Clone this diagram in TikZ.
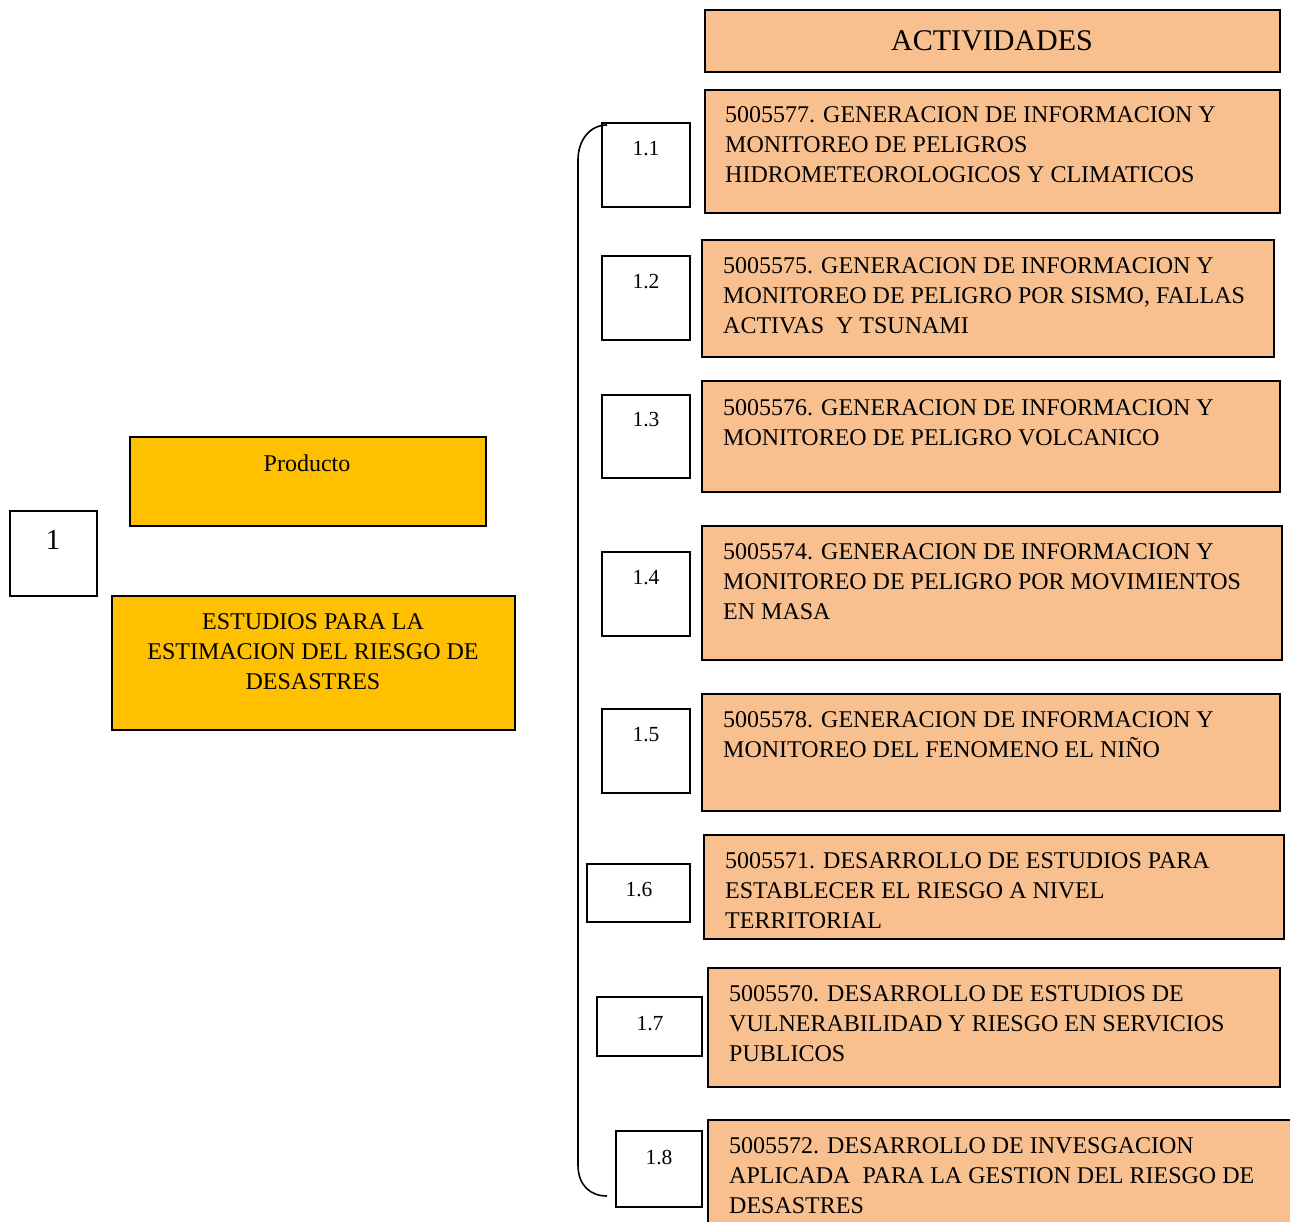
\documentclass[tikz,border=0pt]{standalone}
\usepackage{fontspec}
\setmainfont{Liberation Serif}
\definecolor{peach}{HTML}{F8C08F}
\definecolor{gold}{HTML}{FFC000}
\begin{document}
\begin{tikzpicture}[x=1pt,y=-1pt,
  actbox/.style={draw=black, line width=1.9pt, fill=peach, anchor=north west, inner sep=0pt, outer sep=0pt},
  prodbox/.style={draw=black, line width=1.9pt, fill=gold, anchor=north west, inner sep=0pt, outer sep=0pt},
  numbox/.style={draw=black, line width=1.7pt, fill=white, anchor=north west, inner sep=0pt, outer sep=0pt},
  acttext/.style={anchor=north west, inner sep=0pt, align=left, font=\fontsize{24}{30}\selectfont},
  numtext/.style={anchor=north, inner sep=0pt, font=\fontsize{21.5}{26}\selectfont},
  bracket/.style={draw=black, line width=1.6pt}
]
\useasboundingbox (0,0) rectangle (1290,1222);
\clip (0,0) rectangle (1290,1222);

% header
\node[actbox, minimum width=575pt, minimum height=62pt] (hdr) at (705,10) {};
\node[inner sep=0pt, font=\fontsize{30}{36}\selectfont] (hdrt) at (992,40.5) {ACTIVIDADES};

% activities
\node[actbox, minimum width=575pt, minimum height=123pt] (a1) at (705,90) {};
\node[acttext] (a1t) at (725,106.5) {5005577. GENERACION DE INFORMACION Y\\MONITOREO DE PELIGROS\\HIDROMETEOROLOGICOS Y CLIMATICOS};

\node[actbox, minimum width=572pt, minimum height=117pt] (a2) at (702,240) {};
\node[acttext] (a2t) at (723,257.5) {5005575. GENERACION DE INFORMACION Y\\MONITOREO DE PELIGRO POR SISMO, FALLAS\\ACTIVAS\ \ Y TSUNAMI};

\node[actbox, minimum width=578pt, minimum height=111pt] (a3) at (702,381) {};
\node[acttext] (a3t) at (723,399.5) {5005576. GENERACION DE INFORMACION Y\\MONITOREO DE PELIGRO VOLCANICO};

\node[actbox, minimum width=580pt, minimum height=134pt] (a4) at (702,526) {};
\node[acttext] (a4t) at (723,543.5) {5005574. GENERACION DE INFORMACION Y\\MONITOREO DE PELIGRO POR MOVIMIENTOS\\EN MASA};

\node[actbox, minimum width=578pt, minimum height=117pt] (a5) at (702,694) {};
\node[acttext] (a5t) at (723,711.5) {5005578. GENERACION DE INFORMACION Y\\MONITOREO DEL FENOMENO EL NIÑO};

\node[actbox, minimum width=580pt, minimum height=104pt] (a6) at (704,835) {};
\node[acttext] (a6t) at (725,852.5) {5005571. DESARROLLO DE ESTUDIOS PARA\\ESTABLECER EL RIESGO A NIVEL\\TERRITORIAL};

\node[actbox, minimum width=572pt, minimum height=119pt] (a7) at (708,968) {};
\node[acttext] (a7t) at (729,985.5) {5005570. DESARROLLO DE ESTUDIOS DE\\VULNERABILIDAD Y RIESGO EN SERVICIOS\\PUBLICOS};

\node[actbox, minimum width=600pt, minimum height=120pt] (a8) at (708,1120) {};
\node[acttext] (a8t) at (729,1137.5) {5005572. DESARROLLO DE INVESGACION\\APLICADA\ \ PARA LA GESTION DEL RIESGO DE\\DESASTRES};

% number boxes
\node[numbox, minimum width=88pt, minimum height=84pt] (n1) at (602,123) {};
\node[numtext] (n1t) at (646,141) {1.1};
\node[numbox, minimum width=88pt, minimum height=84pt] (n2) at (602,256) {};
\node[numtext] (n2t) at (646,274) {1.2};
\node[numbox, minimum width=88pt, minimum height=83pt] (n3) at (602,395) {};
\node[numtext] (n3t) at (646,412) {1.3};
\node[numbox, minimum width=88pt, minimum height=84pt] (n4) at (602,552) {};
\node[numtext] (n4t) at (646,570) {1.4};
\node[numbox, minimum width=88pt, minimum height=84pt] (n5) at (602,709) {};
\node[numtext] (n5t) at (646,727) {1.5};
\node[numbox, minimum width=103pt, minimum height=58pt] (n6) at (587,864) {};
\node[numtext] (n6t) at (639,882) {1.6};
\node[numbox, minimum width=105pt, minimum height=59pt] (n7) at (597,997) {};
\node[numtext] (n7t) at (650,1016) {1.7};
\node[numbox, minimum width=86pt, minimum height=76pt] (n8) at (616,1131) {};
\node[numtext] (n8t) at (659,1150) {1.8};

% bracket
\coordinate (btop) at (607,125);
\coordinate (bbot) at (607,1196);
\draw[bracket] (btop) .. controls (590,125) and (578,140) .. (578,160) -- (578,1165) .. controls (578,1185) and (590,1196) .. (bbot);

% product side
\node[numbox, minimum width=87pt, minimum height=85pt] (p1) at (10,511) {};
\node[inner sep=0pt, anchor=north, font=\fontsize{29}{34}\selectfont] (p1t) at (53,530) {1};

\node[prodbox, minimum width=356pt, minimum height=89pt] (prod) at (130,437) {};
\node[inner sep=0pt, anchor=north, font=\fontsize{24}{30}\selectfont] (prodt) at (307,454.5) {Producto};

\node[prodbox, minimum width=403pt, minimum height=134pt] (est) at (112,596) {};
\node[inner sep=0pt, anchor=north, align=center, font=\fontsize{24}{30}\selectfont] (estt) at (313,613.5) {ESTUDIOS PARA LA\\ESTIMACION DEL RIESGO DE\\DESASTRES};
\end{tikzpicture}
\end{document}
